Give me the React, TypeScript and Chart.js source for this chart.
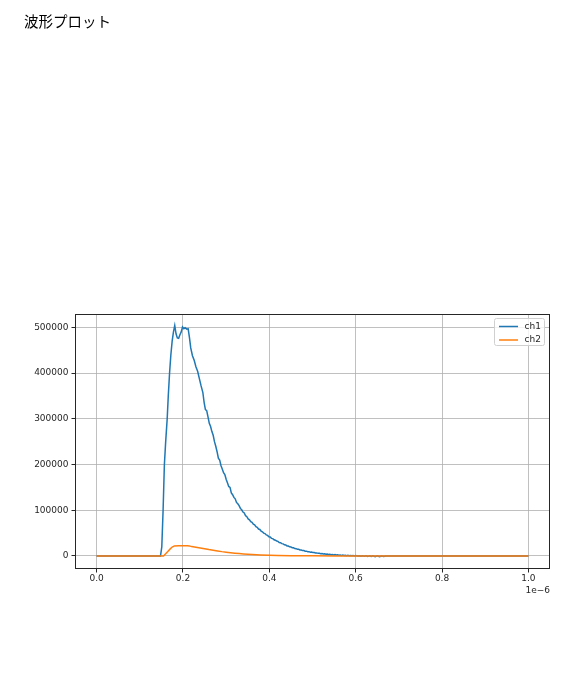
import { useEffect, useRef } from "react";
import { Chart, registerables } from "chart.js";

Chart.register(...registerables);

const chartTitle = "波形プロット";
const seriesNames = ["ch1", "ch2"];
const seriesColors = ["#1f77b4", "#ff7f0e"];
const xOffsetLabel = "1e−6";

// time in units of 1e-6 s
const ch1Time = [
  0.0, 0.1, 0.148, 0.151, 0.154, 0.157, 0.16, 0.1635, 0.166, 0.169, 0.172, 0.175, 0.178, 0.181,
  0.184, 0.187, 0.19, 0.193, 0.196, 0.199, 0.202, 0.205, 0.209, 0.212, 0.215, 0.218, 0.222, 0.226,
  0.23, 0.234, 0.238, 0.242, 0.246, 0.249, 0.252, 0.255, 0.258, 0.261, 0.264, 0.267, 0.27, 0.273,
  0.276, 0.279, 0.282, 0.285, 0.288, 0.291, 0.294, 0.297, 0.3, 0.303, 0.306, 0.309, 0.312, 0.315,
  0.318, 0.321, 0.324, 0.327, 0.33, 0.333, 0.336, 0.339, 0.342, 0.345, 0.348, 0.351, 0.354, 0.357,
  0.36, 0.363, 0.366, 0.369, 0.372, 0.375, 0.378, 0.381, 0.384, 0.387, 0.39, 0.393, 0.396, 0.399,
  0.402, 0.405, 0.408, 0.411, 0.414, 0.417, 0.42, 0.423, 0.426, 0.429, 0.432, 0.435, 0.438, 0.441,
  0.444, 0.447, 0.45, 0.453, 0.456, 0.459, 0.462, 0.465, 0.468, 0.471, 0.474, 0.477, 0.48, 0.483,
  0.486, 0.489, 0.492, 0.495, 0.498, 0.501, 0.504, 0.507, 0.51, 0.513, 0.516, 0.519, 0.522, 0.525,
  0.528, 0.531, 0.534, 0.537, 0.54, 0.543, 0.546, 0.549, 0.552, 0.555, 0.558, 0.561, 0.564, 0.567,
  0.57, 0.573, 0.576, 0.579, 0.582, 0.585, 0.588, 0.591, 0.594, 0.597, 0.6, 0.604, 0.608, 0.612,
  0.616, 0.62, 0.624, 0.628, 0.632, 0.636, 0.64, 0.645, 0.65, 0.655, 0.66, 0.665, 0.67, 0.68,
  0.7, 0.75, 0.8, 0.9, 1.0,
];
const ch1Value = [
  0, 0, 0, 20000, 100000, 200000, 250000, 300000, 350000, 400000, 440000, 470000, 490000, 504000,
  486000, 477000, 476000, 484000, 490000, 501000, 497000, 499000, 496000, 497000, 478000, 455000, 438000, 428000,
  414000, 404000, 388000, 372000, 358000, 336000, 320000, 318000, 304000, 290000, 283000, 272000, 264000, 250000,
  240000, 228000, 214000, 210000, 198000, 190000, 182000, 178000, 168000, 160000, 152000, 150000, 138000, 134000,
  128000, 125000, 117000, 114000, 110000, 104000, 101000, 96000, 94000, 88000, 86000, 81000, 79000, 75000,
  73500, 69500, 68000, 64000, 62500, 59000, 58000, 54500, 53000, 50000, 49000, 46000, 45000, 42000,
  41500, 38500, 38000, 35500, 34500, 32500, 32000, 29500, 29000, 27000, 26500, 24500, 24000, 22000,
  21800, 20000, 19800, 18000, 17800, 16200, 16000, 14600, 14500, 13200, 13000, 11800, 11700, 10500,
  10500, 9400, 9400, 8300, 8400, 7400, 7500, 6500, 6700, 5700, 5900, 5000, 5300, 4400,
  4700, 3800, 4200, 3300, 3700, 2800, 3300, 2400, 2900, 2000, 2500, 1600, 2200, 1300,
  1900, 1000, 1700, 700, 1400, 500, 1200, 300, 1000, 100, 800, -200, 600, -500,
  500, -800, 400, -1000, 300, -1200, 200, -1500, 200, -1500, 100, -1200, 0, -300,
  0, 0, 0, 0, 0,
];

const ch2Time = [
  0.0, 0.15, 0.155, 0.16, 0.165, 0.17, 0.175, 0.18, 0.19, 0.2, 0.21, 0.215, 0.22, 0.23, 0.24, 0.25,
  0.26, 0.27, 0.28, 0.29, 0.3, 0.31, 0.32, 0.33, 0.34, 0.35, 0.36, 0.38, 0.4, 0.42, 0.45, 0.5,
  0.55, 0.6, 1.0,
];
const ch2Value = [
  0, 0, 0, 5000, 10000, 15000, 19500, 22000, 22500, 22500, 22500, 22000, 20500, 19000, 17500, 16000,
  14000, 12500, 11000, 9500, 8300, 7100, 6100, 5200, 4500, 3800, 3200, 2300, 1600, 1100, 600, 250,
  100, 0, 0,
];

const xTickValues = [0, 0.2, 0.4, 0.6, 0.8, 1.0];
const yTickValues = [0, 100000, 200000, 300000, 400000, 500000];
const xRange = [-0.05, 1.05];
const yRange = [-28500, 529200];

const TEXT_COLOR = "#262626";

const framePlugin = {
  id: "frameAndLegend",
  afterDatasetsDraw(chart: any) {
    const { ctx, chartArea } = chart;
    const l = Math.round(chartArea.left) + 0.5;
    const t = Math.round(chartArea.top) + 0.5;
    const r = Math.round(chartArea.right) - 0.5;
    const b = Math.round(chartArea.bottom) - 0.5;
    ctx.save();
    ctx.strokeStyle = TEXT_COLOR;
    ctx.lineWidth = 1;
    ctx.strokeRect(l, t, r - l, b - t);

    // legend box (upper right, inside axes)
    const bw = 50;
    const bh = 27;
    const bx = Math.round(chartArea.right) - 56 + 0.5;
    const by = Math.round(chartArea.top) + 4 + 0.5;
    const rad = 2;
    ctx.beginPath();
    ctx.moveTo(bx + rad, by);
    ctx.lineTo(bx + bw - rad, by);
    ctx.arcTo(bx + bw, by, bx + bw, by + rad, rad);
    ctx.lineTo(bx + bw, by + bh - rad);
    ctx.arcTo(bx + bw, by + bh, bx + bw - rad, by + bh, rad);
    ctx.lineTo(bx + rad, by + bh);
    ctx.arcTo(bx, by + bh, bx, by + bh - rad, rad);
    ctx.lineTo(bx, by + rad);
    ctx.arcTo(bx, by, bx + rad, by, rad);
    ctx.closePath();
    ctx.fillStyle = "rgba(255,255,255,0.8)";
    ctx.fill();
    ctx.strokeStyle = "#d0d0d0";
    ctx.stroke();

    ctx.font = "9px 'DejaVu Sans'";
    ctx.textBaseline = "middle";
    ctx.textAlign = "left";
    seriesNames.forEach((name, i) => {
      const yy = by + 8 + i * 13.5;
      ctx.beginPath();
      ctx.strokeStyle = seriesColors[i];
      ctx.lineWidth = 1.5;
      ctx.moveTo(bx + 4.5, yy);
      ctx.lineTo(bx + 23.5, yy);
      ctx.stroke();
      ctx.fillStyle = TEXT_COLOR;
      ctx.fillText(name, bx + 30, yy);
    });
    ctx.restore();
  },
};

export default function App() {
  const canvasRef = useRef<HTMLCanvasElement | null>(null);

  useEffect(() => {
    const canvas = canvasRef.current;
    if (!canvas) return;
    const chart = new Chart(canvas, {
      type: "line",
      data: {
        datasets: [
          {
            label: seriesNames[1],
            data: ch2Time.map((t, i) => ({ x: t, y: ch2Value[i] })),
            borderColor: seriesColors[1],
            backgroundColor: seriesColors[1],
            borderWidth: 1.5,
            pointRadius: 0,
            tension: 0,
            fill: false,
          },
          {
            label: seriesNames[0],
            data: ch1Time.map((t, i) => ({ x: t, y: ch1Value[i] })),
            borderColor: seriesColors[0],
            backgroundColor: seriesColors[0],
            borderWidth: 1.5,
            pointRadius: 0,
            tension: 0,
            fill: false,
          },
        ],
      },
      options: {
        responsive: false,
        animation: false,
        events: [],
        layout: { padding: { left: 24, right: 38, top: 0, bottom: 90 } },
        plugins: {
          legend: { display: false },
          tooltip: { enabled: false },
          title: {
            display: true,
            text: chartTitle,
            align: "start",
            color: "#000000",
            font: { family: "'Noto Sans CJK JP', 'DejaVu Sans', sans-serif", size: 14.5, weight: "normal" },
            padding: { top: 12.7, bottom: 283.9 },
          },
        },
        scales: {
          x: {
            type: "linear",
            min: xRange[0],
            max: xRange[1],
            afterFit: (s: any) => {
              s.height = 30;
            },
            afterBuildTicks: (s: any) => {
              s.ticks = xTickValues.map((v) => ({ value: v }));
            },
            border: { display: false },
            grid: {
              color: "#b0b0b0",
              lineWidth: 0.8,
              drawTicks: true,
              tickLength: 3.5,
              tickColor: TEXT_COLOR,
              tickWidth: 1,
            },
            ticks: {
              autoSkip: false,
              maxRotation: 0,
              padding: 1,
              color: TEXT_COLOR,
              font: { family: "'DejaVu Sans'", size: 9 },
              callback: (v: any) => Number(v).toFixed(1),
            },
            title: {
              display: true,
              text: xOffsetLabel,
              align: "end",
              color: TEXT_COLOR,
              font: { family: "'DejaVu Sans'", size: 9 },
              padding: { top: 0, bottom: 2.6 },
            },
          },
          y: {
            type: "linear",
            min: yRange[0],
            max: yRange[1],
            afterFit: (s: any) => {
              s.width = 51;
            },
            afterBuildTicks: (s: any) => {
              s.ticks = yTickValues.map((v) => ({ value: v }));
            },
            border: { display: false },
            grid: {
              color: "#b0b0b0",
              lineWidth: 0.8,
              drawTicks: true,
              tickLength: 3.5,
              tickColor: TEXT_COLOR,
              tickWidth: 1,
            },
            ticks: {
              padding: 3,
              color: TEXT_COLOR,
              font: { family: "'DejaVu Sans'", size: 9 },
              callback: (v: any) => String(v),
            },
          },
        },
      },
      plugins: [framePlugin],
    } as any);
    return () => chart.destroy();
  }, []);

  return (
    <div style={{ position: "absolute", left: 0, top: 0, width: 588, height: 689 }}>
      <canvas ref={canvasRef} width={588} height={689} style={{ width: 588, height: 689 }} />
    </div>
  );
}
